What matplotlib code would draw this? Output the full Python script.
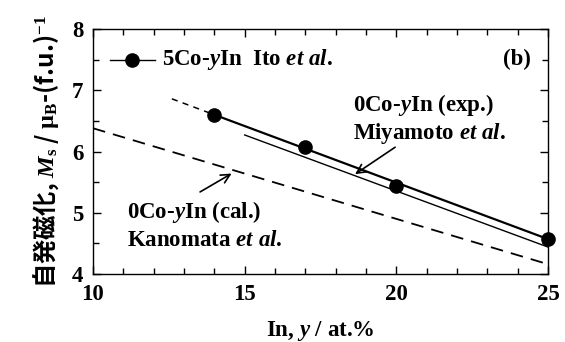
import matplotlib
matplotlib.use('Agg')
from matplotlib import pyplot as plt
from matplotlib.ticker import MultipleLocator

# 5Co-yIn (Ito et al.) measured points
ito_x = [14, 17, 20, 25]
ito_y = [6.59, 6.07, 5.44, 4.57]

# straight fit through Ito points, plus dotted extension to lower In
fit_x = [14, 25]
fit_y = [6.60, 4.57]
ext_x = [12.6, 14]
ext_y = [6.86, 6.60]

# 0Co-yIn experimental (Miyamoto et al.)
exp_x = [15, 25]
exp_y = [6.27, 4.44]

# 0Co-yIn calculated (Kanomata et al.)
cal_x = [10, 25]
cal_y = [6.38, 4.16]

plt.rcParams['font.family'] = ['Liberation Serif', 'Noto Sans CJK JP']
plt.rcParams['font.weight'] = 'bold'
plt.rcParams['mathtext.fontset'] = 'custom'
plt.rcParams['mathtext.rm'] = 'Liberation Serif:bold'
plt.rcParams['mathtext.it'] = 'Liberation Serif:bold:italic'
plt.rcParams['mathtext.bf'] = 'Liberation Serif:bold'

FS = 16.5

fig = plt.figure(figsize=(5.65, 3.42), dpi=100)
ax = fig.add_axes([0.1646, 0.1988, 0.8053, 0.7164])

ax.plot(fit_x, fit_y, color='black', lw=1.6)
ax.plot(ext_x, ext_y, color='black', lw=1.1, ls=(0, (4, 3.5)))
ax.plot(ito_x, ito_y, 'o', color='black', ms=9.5, clip_on=False, zorder=5)
ax.plot(exp_x, exp_y, color='black', lw=1.0)
ax.plot(cal_x, cal_y, color='black', lw=1.3, ls=(0, (7, 4.5)))

# legend-like key
ax.plot([10.56, 12.04], [7.5, 7.5], color='black', lw=1.0)
ax.plot([11.29], [7.5], 'o', color='black', ms=9.5)
ax.text(12.28, 7.5, r'5Co-$y$In  Ito $et\ al$.', fontsize=FS, fontweight='bold',
        va='center', ha='left')
ax.text(24.45, 7.5, '(b)', fontsize=FS, fontweight='bold', va='center', ha='right')

ax.text(18.56, 6.76, r'0Co-$y$In (exp.)', fontsize=FS, fontweight='bold', va='center', ha='left')
ax.text(18.56, 6.30, r'Miyamoto $et\ al$.', fontsize=FS, fontweight='bold', va='center', ha='left')
ax.text(11.11, 5.02, r'0Co-$y$In (cal.)', fontsize=FS, fontweight='bold', va='center', ha='left')
ax.text(11.11, 4.555, r'Kanomata $et\ al$.', fontsize=FS, fontweight='bold', va='center', ha='left')

ax.annotate('', xy=(18.64, 5.63), xytext=(19.96, 6.07),
            arrowprops=dict(arrowstyle='->', lw=1.2, color='black', mutation_scale=16,
                            shrinkA=0, shrinkB=0))
ax.annotate('', xy=(14.57, 5.64), xytext=(13.53, 5.34),
            arrowprops=dict(arrowstyle='->', lw=1.2, color='black', mutation_scale=16,
                            shrinkA=0, shrinkB=0))

ax.set_xlim(10, 25)
ax.set_ylim(4, 8)
ax.xaxis.set_major_locator(MultipleLocator(5))
ax.xaxis.set_minor_locator(MultipleLocator(1))
ax.yaxis.set_major_locator(MultipleLocator(1))
ax.yaxis.set_minor_locator(MultipleLocator(0.5))
ax.tick_params(which='both', direction='in', top=True, right=True, width=1.0)
ax.tick_params(which='major', length=6, labelsize=FS, pad=7)
ax.tick_params(which='minor', length=4)
for lab in ax.get_xticklabels() + ax.get_yticklabels():
    lab.set_fontweight('bold')
for s in ax.spines.values():
    s.set_linewidth(1.0)

ax.set_xlabel(r'In, $y$ / at.%', fontsize=FS, fontweight='bold', labelpad=10)
ax.set_ylabel(r'自発磁化, $M_{\mathrm{s}}$ / $\mathrm{\mu}_{\mathrm{B}}$-(f.u.)$^{-1}$',
              fontsize=17.5, family=['Noto Sans CJK JP'], fontweight='bold', labelpad=8)

fig.savefig('out.png', dpi=100)
